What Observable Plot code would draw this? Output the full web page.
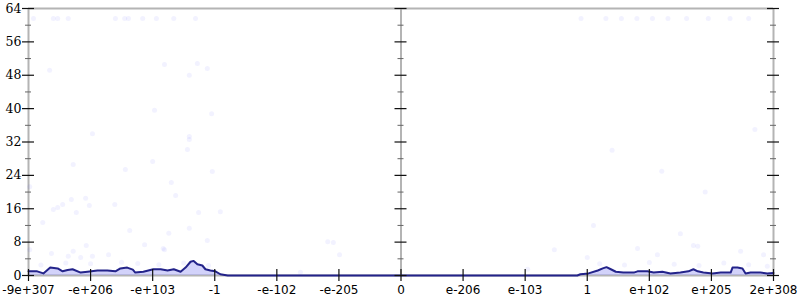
<!DOCTYPE html>
<html><head><meta charset="utf-8">
<script src="https://cdn.jsdelivr.net/npm/d3@7"></script>
<script src="https://cdn.jsdelivr.net/npm/@observablehq/plot@0.6"></script>
<style>body{margin:0;background:#fff} #chart{width:800px;height:300px}</style>
</head><body><div id="chart"></div>
<script>
// x positions are in "tick index" units: 0 = -9e+307 ... 6 = 0 ... 12 = 2e+308
const xLabels = ["-9e+307","-e+206","-e+103","-1","-e-102","-e-205","0","e-206","e-103","1","e+102","e+205","2e+308"];
const xTickIdx = [0,1,2,3,4,5,6,7,8,9,10,11,12];
const yMajor = [0,8,16,24,32,40,48,56,64];
const yMinor = [4,12,20,28,36,44,52,60];
const axisPositions = [0,6,12];

const lineX = [0.00,0.14,0.24,0.35,0.47,0.55,0.63,0.71,0.84,0.95,1.11,1.27,1.40,1.48,1.59,1.68,1.72,1.85,1.93,2.01,2.13,2.24,2.34,2.45,2.53,2.61,2.66,2.72,2.80,2.85,2.93,3.01,3.09,3.21,
  8.84,8.89,9.02,9.17,9.25,9.31,9.38,9.46,9.58,9.75,9.81,9.97,10.07,10.21,10.34,10.50,10.63,10.71,10.78,10.87,11.02,11.15,11.31,11.34,11.42,11.50,11.55,11.63,11.79,11.90,12.00];
const lineY = [1.0,1.0,0.5,1.9,1.7,1.0,1.3,1.5,0.7,0.9,1.2,1.2,1.0,1.7,1.9,1.4,0.7,0.9,1.2,1.5,1.5,1.2,1.5,0.9,1.9,3.3,3.5,2.7,2.4,1.5,1.2,1.0,0.3,0,
  0,0.3,0.5,1.2,1.7,2.0,1.5,0.9,0.7,0.7,1.0,1.0,0.7,0.9,0.5,0.7,1.0,1.5,1.0,0.7,0.5,0.7,0.7,1.9,1.9,1.7,0.5,0.7,0.7,0.5,0.6];

const dotX = [0.08,0.40,0.47,0.64,1.40,1.55,1.61,1.84,2.06,2.34,2.69,
  0.34,2.19,2.72,2.88,2.59,2.03,2.95,1.03,2.59,2.59,2.56,2.00,0.72,1.56,2.96,2.30,0.02,2.37,0.92,0.69,0.55,1.39,0.47,0.40,0.98,0.77,2.74,3.09,0.23,1.63,2.59,2.26,2.88,1.87,0.93,2.19,0.02,0.72,
  4.82,4.91,5.01,4.38,8.04,0.37,0.64,0.84,1.03,1.29,1.76,2.17,
  8.47,9.00,9.81,10.13,10.71,10.78,11.47,11.84,
  8.90,9.30,9.55,9.80,10.05,10.30,10.60,10.95,11.30,11.60,
  9.40,10.20,10.90,11.70,9.10,10.50,
  0.2,0.6,1.0,1.5,2.1,2.5,2.9,9.2,9.6,10.0,10.4,10.8,11.2,11.6,11.9];
const dotY = [61.6,61.6,61.6,61.6,61.6,61.6,61.6,61.6,61.6,61.6,61.6,
  49.2,50.6,50.8,49.6,48.0,39.6,38.8,34.0,33.3,32.6,30.2,27.3,26.6,25.4,24.9,22.3,21.3,19.2,18.5,18.2,17.0,17.0,16.3,15.8,16.8,15.1,15.1,15.3,12.7,10.8,11.3,10.1,8.4,7.4,7.2,6.2,6.2,5.8,
  8.1,7.9,5.0,0.8,1.5,5.3,4.6,4.3,4.6,5.0,2.9,6.5,
  6.2,4.3,6.5,5.0,7.2,7.0,5.8,5.0,
  61.6,61.6,61.6,61.6,61.6,61.6,61.6,61.6,61.6,61.6,
  30.0,25.0,20.0,35.0,12.0,10.0,
  2.5,3.0,2.8,3.2,2.6,3.0,2.4,2.8,2.5,3.1,2.7,2.4,3.0,2.6,2.2];

const line = lineX.map((x, i) => ({x, y: lineY[i]}));
const dots = dotX.map((x, i) => ({x, y: dotY[i]}));
const majorTicks = axisPositions.flatMap(a => yMajor.map(y => ({a, y})));
const minorTicks = axisPositions.flatMap(a => yMinor.map(y => ({a, y})));

const chart = Plot.plot({
  width: 800, height: 300,
  marginLeft: 28, marginRight: 27, marginTop: 8, marginBottom: 25,
  x: {domain: [0, 12]},
  y: {domain: [0, 64]},
  marks: [
    Plot.ruleX(axisPositions, {stroke: "#b4b4b4", strokeWidth: 2}),
    Plot.ruleY([64, 0], {stroke: "#b4b4b4", strokeWidth: 2}),
    Plot.dot(dots, {x: "x", y: "y", r: 2.5, fill: "#4848ff", fillOpacity: 0.07}),
    Plot.areaY(line, {x: "x", y: "y", fill: "#6a6af0", fillOpacity: 0.3}),
    Plot.line(line, {x: "x", y: "y", stroke: "#23238a", strokeWidth: 2}),
    Plot.ruleY(majorTicks, {x1: "a", x2: "a", y: "y", insetLeft: -6, insetRight: -6, stroke: "#111", strokeWidth: 1.2}),
    Plot.ruleY(minorTicks, {x1: "a", x2: "a", y: "y", insetLeft: -3, insetRight: -3, stroke: "#666", strokeWidth: 1}),
    Plot.ruleX(xTickIdx, {x: d => d, y1: 0, y2: 0, insetTop: -6, insetBottom: -6, stroke: "#111", strokeWidth: 1.2}),
    Plot.axisY({ticks: yMajor, tickSize: 0, tickPadding: 7, label: null, fontSize: 12.5, fill: "#000"}),
    Plot.axisX({ticks: xTickIdx, tickFormat: i => xLabels[i], tickSize: 0, tickPadding: 10, label: null, fontSize: 12, fill: "#000"})
  ]
});
document.getElementById("chart").append(chart);
d3.select(chart).selectAll('g[aria-label^="y-axis"] text, g[aria-label^="y-axis"]')
  .attr("font-family", "'DejaVu Serif', 'Liberation Serif', serif")
  .style("font-family", "'DejaVu Serif', 'Liberation Serif', serif");
d3.select(chart).selectAll('g[aria-label^="x-axis"] text, g[aria-label^="x-axis"]')
  .style("font-family", "'DejaVu Sans', sans-serif");
</script>
</body></html>
